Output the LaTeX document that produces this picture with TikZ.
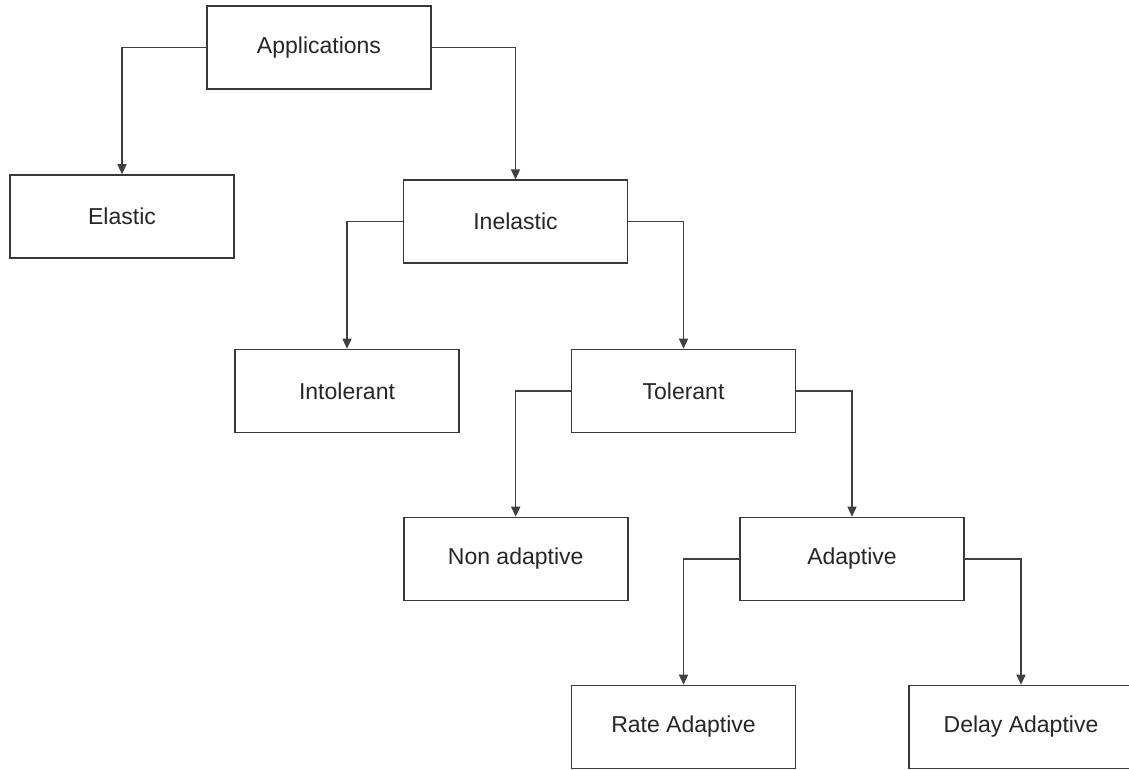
\documentclass[tikz,border=0pt]{standalone}
\usepackage{fontspec}
\setmainfont{Liberation Sans}
\usetikzlibrary{arrows.meta}

\tikzset{
  box/.style={draw=black!78, line width=1.6pt, fill=white,
    minimum width=224pt, minimum height=83pt, inner sep=0pt,
    text=black!85, font=\fontsize{23}{27}\selectfont},
  link/.style={draw=black!75, line width=1.5pt,
    -{Triangle[width=9pt,length=10pt]}}
}

\begin{document}
\begin{tikzpicture}[x=1pt,y=-1pt]
  \useasboundingbox (0,0) rectangle (1129,770);
  \clip (0,0) rectangle (1129,770);
  \fill[white] (0,0) rectangle (1129,770);

  % the tree of application classes
  \node[box] (app)   at (319,47.5)   {Applications};
  \node[box] (el)    at (122,216.5)  {Elastic};
  \node[box] (inel)  at (515.5,221.7){Inelastic};
  \node[box] (intol) at (347,391)    {Intolerant};
  \node[box] (tol)   at (683.5,391)  {Tolerant};
  \node[box] (nonad) at (515.7,559)  {Non adaptive};
  \node[box] (ad)    at (852,559)    {Adaptive};
  \node[box] (rate)  at (683.5,727)  {Rate Adaptive};
  \node[box] (delay) at (1021,727)   {Delay Adaptive};

  % elbow connectors from each parent's sides to its children
  \draw[link] (app.west)  -| (el.north);
  \draw[link] (app.east)  -| (inel.north);
  \draw[link] (inel.west) -| (intol.north);
  \draw[link] (inel.east) -| (tol.north);
  \draw[link] (tol.west)  -| (nonad.north);
  \draw[link] (tol.east)  -| (ad.north);
  \draw[link] (ad.west)   -| (rate.north);
  \draw[link] (ad.east)   -| (delay.north);
\end{tikzpicture}
\end{document}
